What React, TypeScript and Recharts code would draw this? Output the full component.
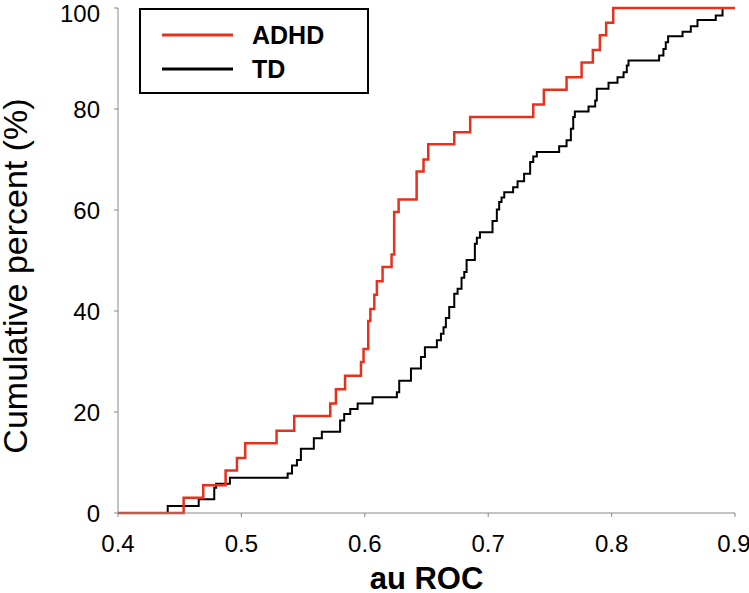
import { LineChart, Line, XAxis, YAxis, Legend } from "recharts";

// cumulative distribution of au ROC, step points (x = au ROC, y = cumulative %)
const adhdX = [0.4, 0.4532, 0.4691, 0.4872, 0.4964, 0.5031, 0.5285, 0.5428, 0.572, 0.5766, 0.584, 0.5969, 0.599, 0.6028, 0.6045, 0.6077, 0.6098, 0.6144, 0.6217, 0.6238, 0.6274, 0.642, 0.6476, 0.6514, 0.6725, 0.6854, 0.7365, 0.7451, 0.7635, 0.7757, 0.7848, 0.7905, 0.7956, 0.8013, 0.9];
const adhdY = [0, 3.0, 5.5, 8.4, 10.9, 13.8, 16.3, 19.2, 21.7, 24.5, 27.2, 29.9, 32.5, 38.0, 40.4, 43.2, 45.9, 48.7, 51.2, 59.6, 62.1, 67.6, 70.0, 73.0, 75.4, 78.4, 80.9, 83.8, 86.3, 89.2, 91.7, 94.6, 97.1, 100, 100];

const tdX = [0.4, 0.4403, 0.4654, 0.478, 0.4795, 0.4907, 0.5375, 0.541, 0.545, 0.5482, 0.5587, 0.5652, 0.58, 0.5833, 0.5882, 0.5942, 0.6063, 0.626, 0.6279, 0.6374, 0.6455, 0.6487, 0.6584, 0.6617, 0.6638, 0.6657, 0.6684, 0.6725, 0.6752, 0.6784, 0.6806, 0.6825, 0.6892, 0.6908, 0.6933, 0.7035, 0.707, 0.7089, 0.7108, 0.713, 0.7202, 0.7238, 0.7291, 0.734, 0.7365, 0.7394, 0.7575, 0.7635, 0.767, 0.7689, 0.7702, 0.7813, 0.7867, 0.788, 0.7975, 0.8048, 0.8097, 0.8123, 0.8137, 0.8385, 0.842, 0.8439, 0.8458, 0.8575, 0.8642, 0.8696, 0.8844, 0.8899, 0.9];
const tdY = [0, 1.4, 2.7, 5.0, 5.8, 7.0, 7.8, 9.4, 10.5, 12.7, 14.8, 16.1, 18.3, 19.6, 20.6, 21.7, 22.9, 23.9, 26.2, 28.6, 30.9, 32.8, 34.2, 35.5, 36.8, 38.6, 40.8, 43.4, 44.4, 46.6, 47.7, 50.1, 53.3, 54.5, 55.6, 57.8, 60.1, 61.6, 62.5, 63.5, 64.5, 65.7, 67.2, 69.5, 70.6, 71.5, 72.6, 73.8, 76.1, 78.4, 79.5, 80.5, 81.7, 84.0, 85.2, 86.3, 87.3, 88.6, 89.6, 90.6, 91.9, 93.2, 94.4, 95.3, 96.4, 97.6, 98.5, 100, 100];

const xTicks = [0.4, 0.5, 0.6, 0.7, 0.8, 0.9];
const yTicks = [0, 20, 40, 60, 80, 100];

const RED = "#e8311d";
const FONT = "'Liberation Sans', Arial, Helvetica, sans-serif";

const adhdData = adhdX.map((x, i) => ({ x, y: adhdY[i] }));
const tdData = tdX.map((x, i) => ({ x, y: tdY[i] }));

const LegendBox = () => (
  <div
    style={{
      width: 226,
      height: 82,
      border: "2px solid #000",
      background: "#fff",
      position: "relative",
      fontFamily: FONT,
    }}
  >
    <svg width={226} height={82} style={{ position: "absolute", left: 0, top: 0 }}>
      <line x1={21} x2={92} y1={25} y2={25} stroke={RED} strokeWidth={3} />
      <line x1={21} x2={92} y1={59} y2={59} stroke="#000" strokeWidth={3} />
      <text x={111} y={34} fontSize={25} fontWeight="bold" fontFamily={FONT} fill="#000">ADHD</text>
      <text x={111} y={68} fontSize={25} fontWeight="bold" fontFamily={FONT} fill="#000">TD</text>
    </svg>
  </div>
);

const App = () => {
  return (
    <div style={{ position: "absolute", left: 0, top: 0, background: "#fff" }}>
      <LineChart width={749} height={593} margin={{ top: 8, right: 14, left: 0, bottom: 0 }}>
        <XAxis
          dataKey="x"
          type="number"
          domain={[0.4, 0.9]}
          ticks={xTicks}
          allowDataOverflow
          height={80}
          stroke="#888"
          tickSize={4}
          tickMargin={18}
          tick={{ fill: "#000", fontSize: 24, fontFamily: FONT }}
          tickFormatter={(v) => v.toFixed(1)}
          label={{
            content: () => (
              <text x={426.5} y={589} textAnchor="middle" fontSize={31} fontWeight="bold" fontFamily={FONT} fill="#000">
                au ROC
              </text>
            ),
          }}
        />
        <YAxis
          dataKey="y"
          type="number"
          domain={[0, 100]}
          ticks={yTicks}
          width={118}
          stroke="#888"
          tickSize={4}
          tickMargin={14}
          tick={{ fill: "#000", fontSize: 24, fontFamily: FONT }}
          label={{
            content: () => (
              <text x={27} y={276} transform="rotate(-90 27 276)" textAnchor="middle" fontSize={34} fontFamily={FONT} fill="#000">
                Cumulative percent (%)
              </text>
            ),
          }}
        />
        <Legend
          layout="horizontal"
          verticalAlign="middle"
          align="center"
          wrapperStyle={{ position: "absolute", left: 139, top: 8, width: 230, height: 86 }}
          content={() => <LegendBox />}
        />
        <Line data={tdData} dataKey="y" type="stepAfter" stroke="#000" strokeWidth={2} dot={false} isAnimationActive={false} />
        <Line data={adhdData} dataKey="y" type="stepAfter" stroke={RED} strokeWidth={2.5} dot={false} isAnimationActive={false} />
      </LineChart>
    </div>
  );
};

export default App;
